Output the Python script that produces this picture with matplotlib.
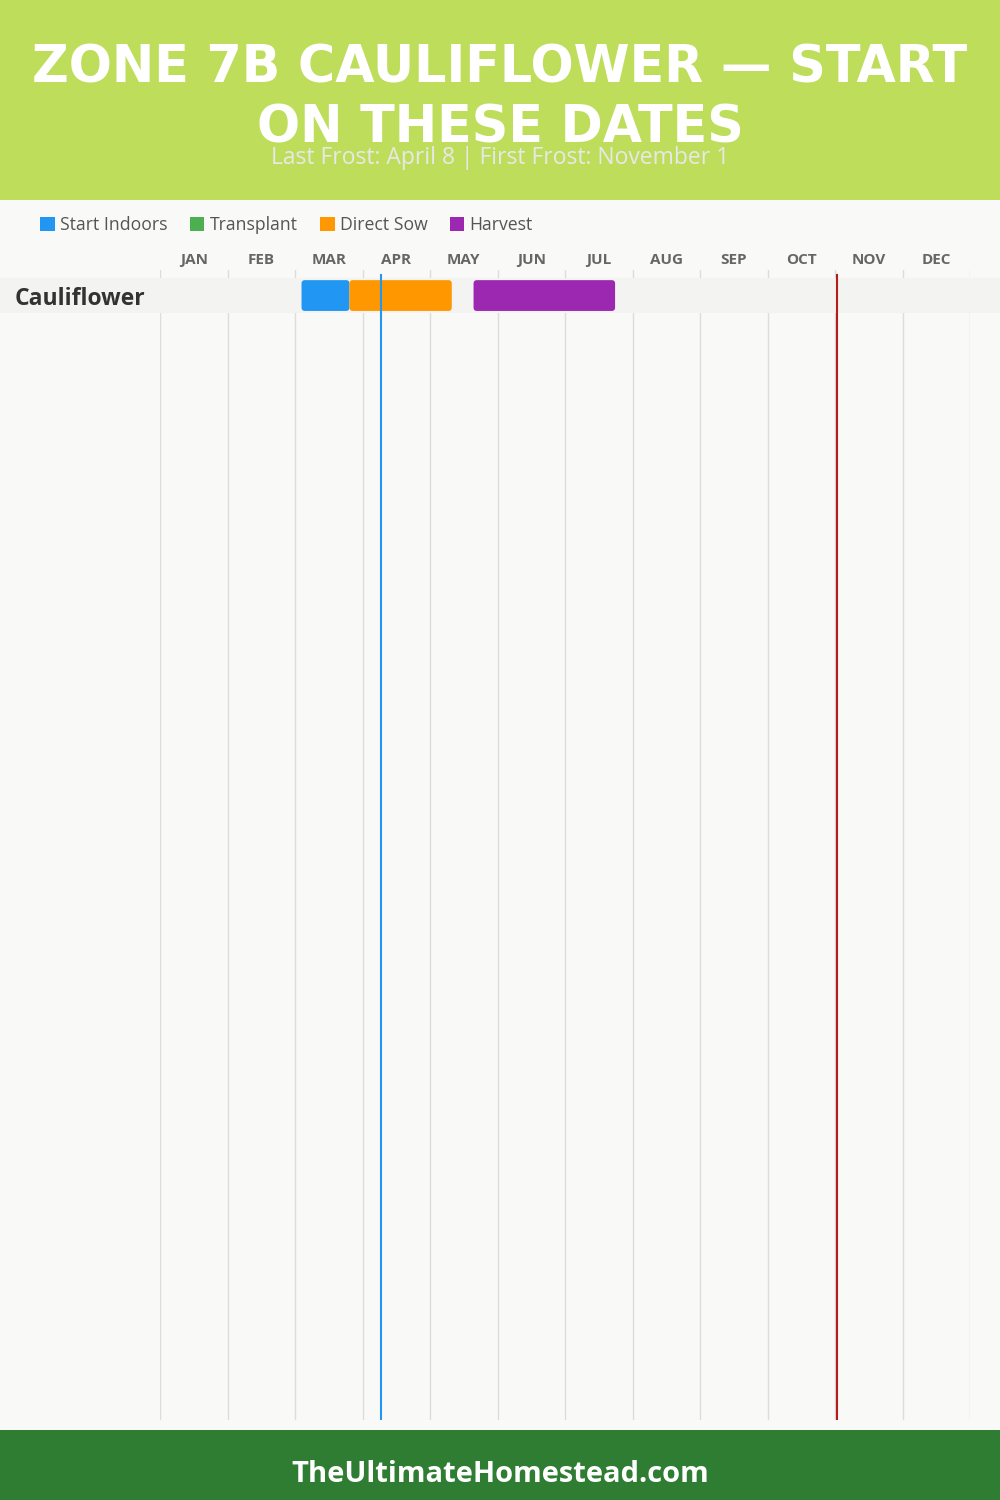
import matplotlib
matplotlib.use('Agg')
import matplotlib.pyplot as plt
from matplotlib.patches import Rectangle, FancyBboxPatch
from matplotlib.transforms import blended_transform_factory

# Datos del calendario
title_lines = ["ZONE 7B CAULIFLOWER — START", "ON THESE DATES"]
subtitle = "Last Frost: April 8 | First Frost: November 1"
footer = "TheUltimateHomestead.com"

months = ["JAN", "FEB", "MAR", "APR", "MAY", "JUN",
          "JUL", "AUG", "SEP", "OCT", "NOV", "DEC"]
days_in_month = [31, 28, 31, 30, 31, 30, 31, 31, 30, 31, 30, 31]

crops = ["Cauliflower"]

legend_names = ["Start Indoors", "Transplant", "Direct Sow", "Harvest"]
legend_colors = ["#2196F3", "#4CAF50", "#FF9800", "#9C27B0"]

# (crop, fase, (mes, dia) inicio, (mes, dia) fin)
phase_crop = ["Cauliflower", "Cauliflower", "Cauliflower"]
phase_kind = ["Start Indoors", "Direct Sow", "Harvest"]
phase_start = [(3, 3), (3, 25), (5, 20)]
phase_end = [(3, 25), (5, 10), (7, 23)]

last_frost = (4, 8)
first_frost = (11, 1)


def month_pos(md):
    """Posicion en unidades de mes (meses de igual ancho)"""
    m, d = md
    return (m - 1) + d / days_in_month[m - 1]


fig = plt.figure(figsize=(10, 15), dpi=100)
fig.patch.set_facecolor("#F9F9F7")

# Cabecera y pie
fig.patches.append(Rectangle((0, 1 - 200 / 1500), 1, 200 / 1500, transform=fig.transFigure,
                             facecolor="#BEDE5B", edgecolor="none", zorder=0))
fig.patches.append(Rectangle((0, 0), 1, 70 / 1500, transform=fig.transFigure,
                             facecolor="#2E7D32", edgecolor="none", zorder=0))

for yy, line in zip([63, 123], title_lines):
    fig.text(0.5, 1 - yy / 1500, line, ha="center", va="center_baseline", color="white",
             fontsize=36.5, fontweight="bold", family="DejaVu Sans")
fig.text(0.5, 1 - 155 / 1500, subtitle, ha="center", va="center_baseline", color="#E8E8E8",
         fontsize=16.5, family="Open Sans")
fig.text(0.5, 1 - 1471 / 1500, footer, ha="center", va="center_baseline", color="white",
         fontsize=21, fontweight="bold", family="Open Sans")

# Leyenda
handles = [Rectangle((0, 0), 1, 1, facecolor=c, edgecolor="none") for c in legend_colors]
leg = fig.legend(handles, legend_names, loc="center left", bbox_to_anchor=(0.024, 1 - 225 / 1500),
                 ncol=4, frameon=False, handlelength=0.84, handleheight=0.84, handletextpad=0.3,
                 columnspacing=1.25, prop={"family": "Open Sans", "size": 12.7})
for t in leg.get_texts():
    t.set_color("#555555")

# Eje principal
ax = fig.add_axes([0.16, 80 / 1500, 0.81, 1150 / 1500])
ax.set_facecolor("none")
ax.set_xlim(0, 12)
ax.set_ylim(32.13, -0.73)
for s in ax.spines.values():
    s.set_visible(False)

ax.set_xticks([i + 0.5 for i in range(12)])
ax.set_xticklabels(months, fontsize=11, fontweight="bold", color="#666666", family="Open Sans")
ax.xaxis.tick_top()
ax.tick_params(axis="x", length=0, pad=2)
ax.set_yticks([])

for i in range(13):
    ax.axvline(i, color="#DDDDDD", lw=1, zorder=1)

band_tr = blended_transform_factory(ax.transAxes, ax.transData)
for r, crop in enumerate(crops):
    ax.add_patch(Rectangle((-160 / 810, r - 0.5), 1000 / 810, 1.0, transform=band_tr,
                           facecolor="#F3F3F2", edgecolor="none", clip_on=False, zorder=2))
    ax.text(-145 / 810, r, crop, transform=band_tr, ha="left", va="center_baseline",
            fontsize=16.5, fontweight="bold", color="#333333", family="Open Sans")

color_of = dict(zip(legend_names, legend_colors))
for crop, kind, s, e in zip(phase_crop, phase_kind, phase_start, phase_end):
    y = crops.index(crop)
    x0 = month_pos(s)
    x1 = month_pos(e)
    ax.add_patch(FancyBboxPatch((x0, y - 0.44), x1 - x0, 0.88,
                                boxstyle="round,pad=0,rounding_size=0.05", mutation_aspect=1.93,
                                facecolor=color_of[kind], edgecolor="none", zorder=3))

ax.axvline(month_pos(last_frost), ymax=0.9957, color="#2196F3", lw=1.5, zorder=4)
ax.axvline(month_pos(first_frost), ymax=0.9957, color="#B71C1C", lw=1.5, zorder=4)

plt.savefig("out.png", dpi=100, facecolor=fig.get_facecolor())
plt.close()
